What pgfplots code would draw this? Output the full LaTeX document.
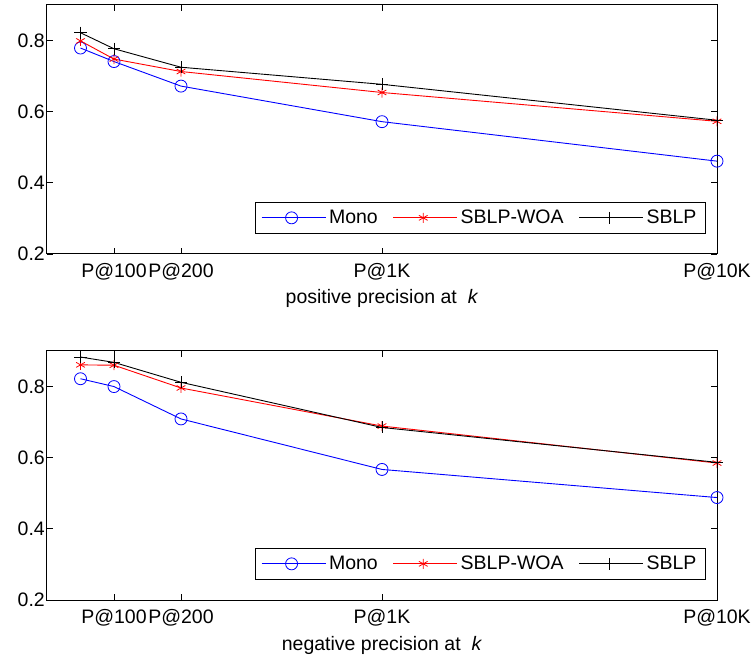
\documentclass[border=0pt]{standalone}
\usepackage{fontspec}
\setmainfont{Liberation Sans}
\usepackage{pgfplots}
\pgfplotsset{compat=1.18}

\pgfplotsset{
  mfig/.style={
    scale only axis, width=670pt, height=249pt,
    xmin=0, xmax=1000, ymin=0.2, ymax=0.9,
    clip=false,
    axis line style={line width=1pt},
    tick align=inside, major tick length=6pt,
    tick style={line width=0.8pt, black},
    xtick={100,200,500,1000},
    xticklabels={P@100,P@200,P@1K,P@10K},
    ytick={0.2,0.4,0.6,0.8},
    /pgf/number format/assume math mode=true,
    yticklabel style={/pgf/number format/fixed,
      /pgf/number format/fixed zerofill,
      /pgf/number format/precision=1, inner sep=2pt},
    xticklabel style={inner sep=1pt, yshift=-8pt},
    tick label style={font=\fontsize{19.5}{22}\selectfont},
    label style={font=\fontsize{19.5}{22}\selectfont},
    xlabel style={at={(axis description cs:0.5,0)}, anchor=base, yshift=-50pt},
    legend columns=3,
    legend style={at={(0.9836,0.0803)}, anchor=south east,
      draw=black, line width=1.2pt,
      font=\fontsize{19.5}{22}\selectfont,
      inner xsep=6pt, inner ysep=5pt,
      nodes={inner xsep=3pt, inner ysep=3pt},
      /tikz/every even column/.append style={column sep=12pt}},
    legend image code/.code={%
      \draw[#1,mark=none] (0pt,0pt) -- (64pt,0pt);
      \draw[#1,only marks] plot coordinates {(30pt,0pt)};},
  },
  mono/.style={blue, line width=0.9pt, mark=o, mark size=6pt, mark options={line width=0.8pt}},
  woa/.style={red, line width=0.9pt, mark=asterisk, mark size=5pt, mark options={line width=0.8pt}},
  sblp/.style={black, line width=0.9pt, mark=+, mark size=6pt, mark options={line width=0.8pt}},
}

\begin{document}
\begin{tikzpicture}
\path[use as bounding box] (-47pt,-406pt) rectangle (708pt,254pt);

\begin{axis}[mfig, at={(0,0)}, anchor=south west,
  xlabel={positive precision at \ \textit{k}}]
\addplot[mono] coordinates {(50,0.779) (100,0.741) (200,0.672) (500,0.572) (1000,0.461)};
\addplot[woa] coordinates {(50,0.799) (100,0.748) (200,0.713) (500,0.654) (1000,0.573)};
\addplot[sblp] coordinates {(50,0.822) (100,0.777) (200,0.725) (500,0.677) (1000,0.576)};
\legend{Mono, SBLP-WOA, SBLP}
\end{axis}

\begin{axis}[mfig, at={(0,-346pt)}, anchor=south west,
  xlabel={negative precision at \ \textit{k}}]
\addplot[mono] coordinates {(50,0.822) (100,0.800) (200,0.709) (500,0.567) (1000,0.488)};
\addplot[woa] coordinates {(50,0.861) (100,0.860) (200,0.796) (500,0.689) (1000,0.585)};
\addplot[sblp] coordinates {(50,0.883) (100,0.868) (200,0.812) (500,0.685) (1000,0.587)};
\legend{Mono, SBLP-WOA, SBLP}
\end{axis}
\end{tikzpicture}
\end{document}
